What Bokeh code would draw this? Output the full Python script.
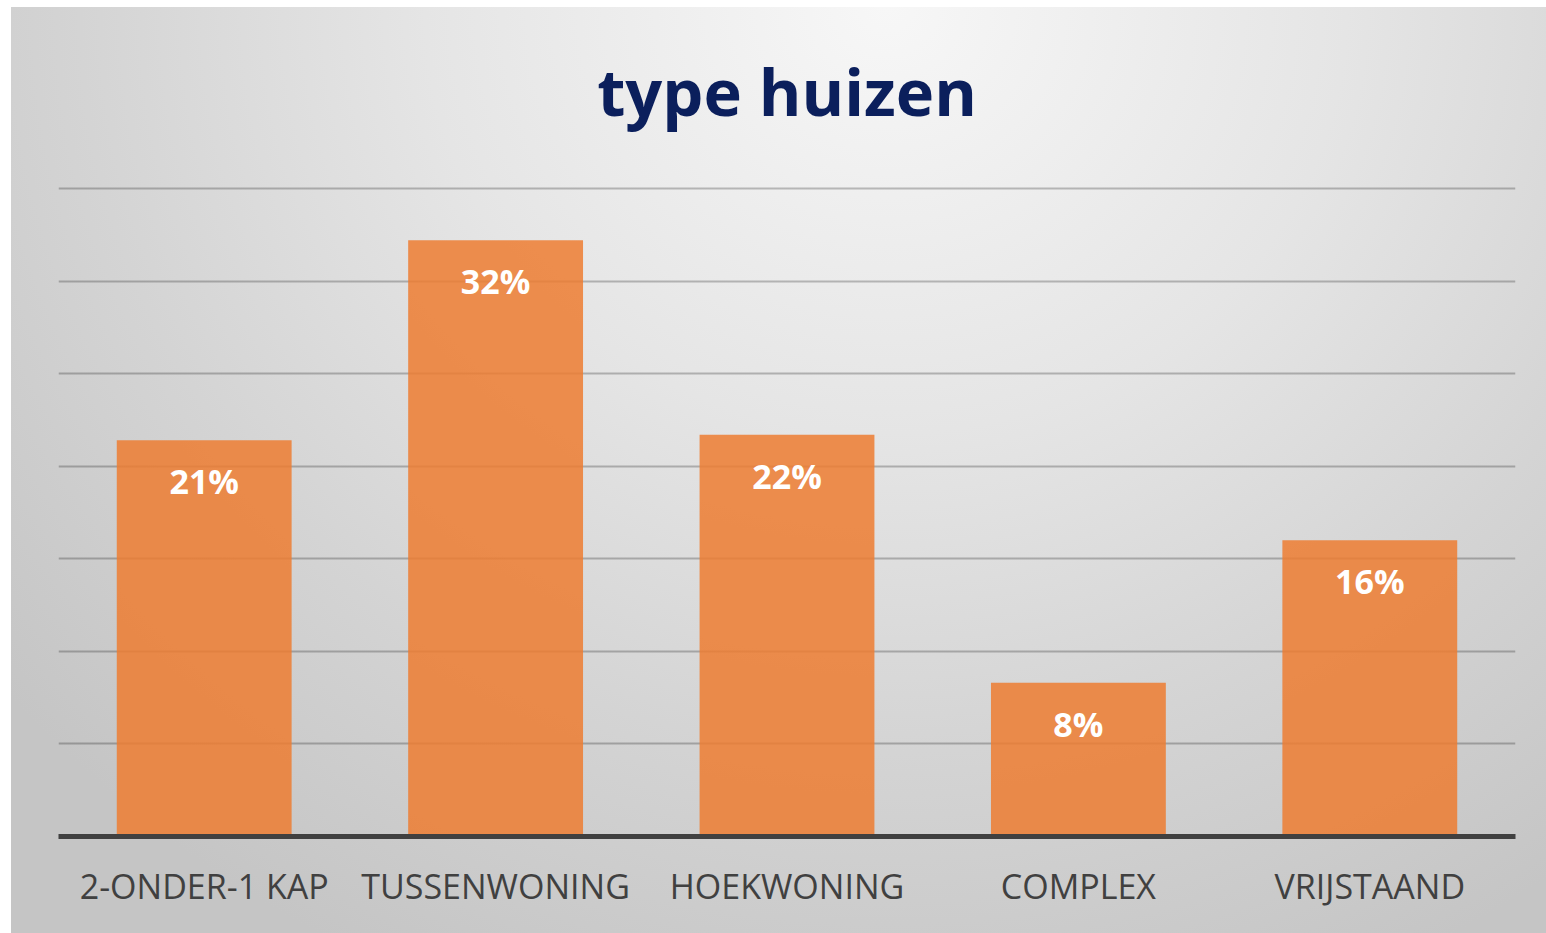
from bokeh.plotting import figure
from bokeh.models import ColumnDataSource, Range1d, FactorRange, FixedTicker
from bokeh.core.properties import value
from bokeh.embed import file_html
from bokeh.resources import INLINE

categories = ["2-ONDER-1 KAP", "TUSSENWONING", "HOEKWONING", "COMPLEX", "VRIJSTAAND"]
values = [21.4, 32.2, 21.7, 8.3, 16.0]
labels = ["21%", "32%", "22%", "8%", "16%"]
grid_ticks = [5, 10, 15, 20, 25, 30, 35]
title_text = "type huizen"

src = ColumnDataSource(dict(cat=categories, val=values, lab=labels))

p = figure(
    width=1535, height=926,
    x_range=FactorRange(*categories, range_padding=0),
    y_range=Range1d(0, 37.05),
    output_backend="svg", toolbar_location=None,
    min_border_left=47, min_border_right=31,
    min_border_top=143, min_border_bottom=97,
)
p.styles = {
    "margin": "7px 0 0 11px",
    "background": "radial-gradient(ellipse 75% 115% at 57% 0%, #f7f7f7 0%, #e5e5e5 40%, #d4d4d4 70%, #c5c5c5 100%)",
}
p.border_fill_color = None
p.background_fill_color = None
p.outline_line_color = None

p.title.text = title_text
p.title.text_font = "Open Sans"
p.title.text_font_style = "bold"
p.title.text_font_size = "65px"
p.title.text_color = "#0b1f5c"
p.title.align = "center"
p.title.standoff = 31

p.vbar(x="cat", top="val", width=0.6, source=src,
       fill_color="#ED7D31", fill_alpha=0.85, line_color=None)

p.text(x="cat", y="val", text="lab", source=src,
       text_font=value("Open Sans"), text_font_style="bold",
       text_font_size="34px", text_color="white",
       text_align="center", text_baseline="middle", y_offset=41)

p.yaxis.visible = False
p.xgrid.grid_line_color = None
p.ygrid.ticker = FixedTicker(ticks=grid_ticks)
p.ygrid.grid_line_color = "black"
p.ygrid.grid_line_alpha = 0.24
p.ygrid.grid_line_width = 2

xa = p.xaxis[0]
xa.axis_line_color = "#404040"
xa.axis_line_width = 5
xa.major_tick_line_color = None
xa.minor_tick_line_color = None
xa.major_label_text_font = "Open Sans"
xa.major_label_text_font_size = "34px"
xa.major_label_text_color = "#404040"
xa.major_label_standoff = 20

open("out.html", "w").write(file_html(p, INLINE))
